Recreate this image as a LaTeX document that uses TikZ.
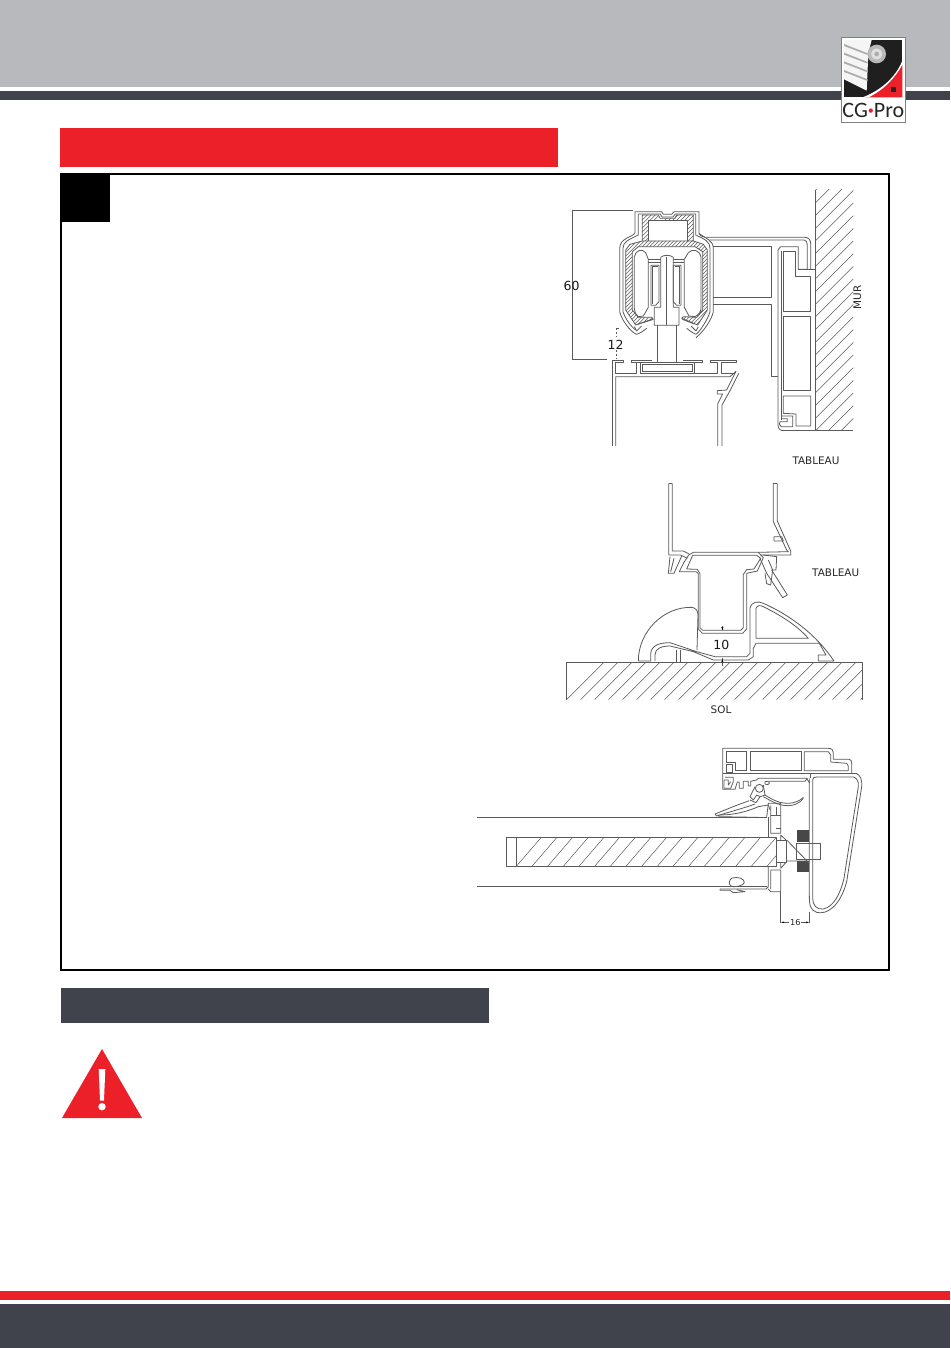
\documentclass[tikz,border=0pt]{standalone}
\usepackage{fontspec}
\setmainfont{DejaVu Sans}
\newfontfamily\logofont{Carlito}
\definecolor{band}{HTML}{B7B9BC}
\definecolor{darkb}{HTML}{40434B}
\definecolor{redb}{HTML}{EC2029}
\definecolor{ink}{HTML}{5A5A5A}
\tikzset{
 prof/.style={draw=ink,line width=0.8pt,line join=round},
 hatch/.style={draw=ink,line width=0.5pt},
 lab/.style={font=\fontsize{10.4}{11}\selectfont,text=black!85,inner sep=0pt},
 dimlab/.style={font=\fontsize{12.5}{13}\selectfont,text=black!90,inner sep=0pt},
 dim/.style={draw=ink,line width=0.6pt}
}
\begin{document}
\begin{tikzpicture}[x=1pt,y=-1pt]
\useasboundingbox (0,0) rectangle (950,1348);
\fill[white] (0,0) rectangle (950,1348);
% header
\fill[band] (0,0) rectangle (950,87);
\fill[darkb] (0,91) rectangle (950,100);
% footer
\fill[redb] (0,1291) rectangle (950,1300);
\fill[darkb] (0,1304) rectangle (950,1348);
% title bars
\fill[redb] (60,128) rectangle (558,167);
\fill[darkb] (61,988) rectangle (489,1023);
% frame
\draw[black,line width=1.5pt] (61,174) rectangle (889,970);
\fill[black] (61,174) rectangle (110,222);
% warning
\fill[redb] (102,1049) -- (142,1118) -- (62,1118) -- cycle;
\fill[white] (98.7,1069) -- (105.3,1069) -- (104,1100.5) -- (100,1100.5) -- cycle;
\fill[white] (102,1106.7) circle (3.7);
% logo
\begin{scope}[shift={(820,20)},scale=1/3]
 \fill[white] (64,52) rectangle (256,306);
 \draw[gray,line width=0.4pt] (64,52) rectangle (256,306);
 \fill[black!88] (72,60) rectangle (247,232);
 \fill[white!92!gray] (72,60) -- (155,60) -- (145,100) -- (140,212) -- (72,178) -- cycle;
 \foreach \yy in {72,98,124,150}
   \fill[gray!65] (72,\yy) -- (143,\yy+28) -- (143,\yy+33) -- (72,\yy+6) -- cycle;
 \fill[redb] (247,134) -- (247,232) -- (136,232) .. controls (190,210) and (225,175) .. (247,134) -- cycle;
 \fill[white] (128,232) .. controls (185,210) and (228,170) .. (247,122) -- (247,134) .. controls (225,175) and (190,210) .. (146,232) -- cycle;
 \fill[black!85] (213,201) rectangle (227,215);
 \fill[gray!55] (170,102) circle (28);
 \fill[gray!25] (170,102) circle (17);
 \fill[gray!65] (170,102) circle (7);
 \node[inner sep=0pt,text=black!85,font=\logofont\fontsize{22}{22}\selectfont] (logotext) at (160,271) {CG\textcolor{redb}{\raisebox{2.5pt}{\scalebox{.55}{•}}}Pro};
\end{scope}
% ------- drawing 1
\begin{scope}[shift={(550,180)},scale=1/3]
 % wall
 \begin{scope}
  \clip (797,30) rectangle (910,752);
  \foreach \k in {0,...,27} \draw[hatch] (797,30+\k*38) -- ++(113,-113);
 \end{scope}
 \draw[prof] (797,30) -- (797,752);
 \draw[prof] (700,752) -- (910,752);
 % tableau profile
 \draw[prof] (490,198) -- (663,198) -- (663,353) -- (490,353);
 \draw[prof] (490,374) -- (663,374) -- (663,590) -- (684,590);
 \draw[prof] (470,172) -- (765,172) .. controls (775,172) and (782,180) .. (782,190) -- (782,268);
 \draw[prof] (478,180) -- (762,180) .. controls (768,180) and (772,186) .. (772,195) -- (772,268) -- (745,268) -- (745,200) -- (692,200) -- (684,210) -- (684,735) .. controls (684,745) and (690,752) .. (700,752);
 \draw[prof] (745,268) -- (795,268) -- (795,752);
 \draw[prof] (694,212) -- (694,720);
 \draw[prof] (700,215) -- (735,215) -- (735,290) -- (782,290) -- (782,395) -- (700,395) -- cycle;
 \draw[prof] (700,408) rectangle (782,632);
 \draw[prof] (700,648) -- (782,648) -- (782,738) -- (738,738) -- (738,702) -- (700,700) -- cycle;
 \draw[prof] (694,708) -- (728,708) -- (728,740) -- (694,740) -- (688,733) -- (690,725) -- (712,725) -- (712,716) -- (694,716);
 % carriage in finer coordinates
 \begin{scope}[shift={(165,60)}]
  % outer extrusion
  \draw[prof] (90,98) -- (90,35) -- (170,35) -- (175,43) -- (200,43) -- (207,35) -- (282,35) -- (282,100) .. controls (285,110) and (300,112) .. (305,112);
  \draw[prof] (90,98) .. controls (85,112) and (45,112) .. (44,145) -- (44,335) .. controls (50,360) and (75,395) .. (95,403) .. controls (105,400) and (115,393) .. (125,385);
  \draw[prof] (100,42) -- (100,105) .. controls (70,120) and (54,125) .. (54,145) -- (54,335) .. controls (60,355) and (78,380) .. (92,390);
  \draw[prof] (100,42) -- (166,42) -- (171,51) -- (204,51) -- (211,42) -- (272,42) -- (272,105) .. controls (300,118) and (315,125) .. (315,145) -- (315,335) .. controls (310,355) and (285,395) .. (273,403) .. controls (265,400) and (255,393) .. (245,385);
  \draw[prof] (282,100) .. controls (300,115) and (325,120) .. (325,145) -- (325,335) .. controls (320,360) and (295,395) .. (273,413);
  % hatched rails
  \begin{scope}
   \clip (112,45) -- (160,45) -- (165,55) -- (210,55) -- (215,45) -- (265,45) -- (265,123) -- (248,123) -- (248,62) -- (130,62) -- (130,123) -- (112,123) -- cycle;
   \foreach \k in {0,...,24} \draw[hatch] (100,60+\k*12) -- ++(60,-60) (180,60+\k*12) -- ++(100,-100);
  \end{scope}
  \begin{scope}
   \clip (62,150) -- (75,133) -- (112,123) -- (265,123) -- (295,133) -- (307,150) -- (307,330) -- (278,375) -- (230,355) -- (235,350) -- (275,352) -- (293,330) -- (293,155) -- (270,140) -- (100,140) -- (82,155) -- (82,330) -- (100,352) -- (140,352) -- (145,358) -- (92,375) -- (62,330) -- cycle;
   \foreach \k in {0,...,50} \draw[hatch] (55,120+\k*11) -- ++(260,-260);
  \end{scope}
  \draw[prof] (112,123) -- (112,45) -- (160,45) -- (165,55) -- (210,55) -- (215,45) -- (265,45) -- (265,123);
  \draw[prof] (130,123) -- (130,62) -- (248,62) -- (248,123);
  \draw[prof] (62,150) -- (75,133) -- (112,123) -- (265,123) -- (295,133) -- (307,150) -- (307,330) -- (278,375) -- (230,355) -- (235,350) -- (275,352) -- (293,330) -- (293,155) -- (270,140) -- (100,140) -- (82,155) -- (82,330) -- (100,352) -- (140,352) -- (145,358) -- (92,375) -- (62,330) -- cycle;
  % wheels
  \draw[prof] (88,170) .. controls (92,150) and (112,145) .. (122,158) -- (130,178) -- (130,322) -- (115,348) -- (100,350) .. controls (92,345) and (88,335) .. (88,325) -- cycle;
  \draw[prof] (288,170) .. controls (284,150) and (262,145) .. (250,158) -- (238,178) -- (238,322) -- (252,348) -- (270,350) .. controls (280,345) and (288,335) .. (288,325) -- cycle;
  \draw[prof] (130,178) -- (167,178) (130,186) -- (167,186) (205,178) -- (238,178) (205,186) -- (238,186);
  \draw[prof] (138,196) -- (162,196) -- (162,305) -- (152,316) -- (138,316) -- cycle;
  \draw[prof] (142,200) -- (158,200) (142,200) -- (142,312);
  \draw[prof] (205,196) -- (228,196) -- (228,316) -- (215,316) -- (205,305) -- cycle;
  \draw[prof] (209,200) -- (224,200) (224,200) -- (224,312);
  % axle
  \draw[prof] (167,322) -- (167,172) .. controls (175,164) and (197,164) .. (205,172) -- (205,322) -- (222,322) -- (222,376) -- (148,376) -- (148,322) -- cycle;
  \draw[prof] (185,170) -- (185,376);
  \draw[prof] (158,376) -- (158,485) (215,376) -- (215,485);
  % lip ends
  \draw[prof] (88,380) -- (95,393) -- (110,378) (100,372) -- (140,358);
  \draw[prof] (280,380) -- (273,393) -- (258,378) (268,372) -- (232,358);
  % dimension extension
  \draw[dim] (85,31) -- (-99,31) -- (-99,477) -- (5,477);
  \draw[dim] (32,385) -- (42,385);
  \draw[dim,dash pattern=on 2pt off 2pt] (34,385) -- (34,412);
  \draw[dim,dash pattern=on 2pt off 2pt] (34,450) -- (34,476);
 \end{scope}
 \node[dimlab] (dsixty) at (65,318) {60};
 \node[dimlab] (dtwelve) at (197,494) {12};
 \node[lab,rotate=90] (mur) at (922,352) {MUR};
 \node[lab] (tab1) at (798,842) {TABLEAU};
 % leaf head
 \draw[prof] (187,798) -- (187,540) -- (220,540) -- (220,548) -- (197,548) -- (197,580) -- (258,580) -- (258,548) -- (245,548) -- (245,540) -- (305,540);
 \draw[prof] (197,798) -- (197,590) -- (540,590) -- (558,574);
 \draw[prof] (258,548) -- (270,548) -- (270,580) -- (432,580) -- (432,548) -- (458,548) -- (458,540) -- (398,540);
 \draw[prof] (270,548) -- (432,548);
 \draw[prof] (276,553) rectangle (426,575);
 \draw[prof] (432,580) -- (503,580) -- (503,548) -- (482,548) -- (482,540) -- (558,540) -- (558,548) -- (515,548) -- (515,580) -- (556,580);
 \draw[prof] (558,574) -- (530,630) -- (502,632) -- (502,642) -- (518,642) -- (503,672) -- (503,798);
 \draw[prof] (566,580) -- (540,632) -- (516,675) -- (516,798);
\end{scope}
% ------- drawing 2
\begin{scope}[shift={(550,475)},scale=1/3]
 \begin{scope}
  \clip (50,562) rectangle (938,674);
  \foreach \k in {0,...,24} \draw[hatch] (50+\k*42,674) -- ++(112,-112);
 \end{scope}
 \draw[prof] (50,674) -- (50,562) -- (938,562) -- (938,674);
 % leaf
 \draw[prof] (356,25) -- (356,240) -- (392,240) -- (412,250);
 \draw[prof] (367,25) -- (367,228) -- (400,228) -- (416,236);
 \draw[prof] (356,25) -- (367,25) (670,25) -- (682,25);
 \draw[prof] (670,25) -- (670,140) -- (710,225) -- (715,230) -- (625,232);
 \draw[prof] (682,25) -- (682,138) -- (722,228) -- (722,240) -- (630,240);
 \draw[prof] (672,185) -- (695,185) -- (700,198) -- (672,198) -- cycle;
 % t profile
 \draw[prof] (416,240) -- (430,232) -- (625,232) -- (640,248) -- (622,288) -- (590,295) -- (590,462) -- (578,475) -- (457,475) -- (445,462) -- (445,296) -- (438,290) -- (388,290) -- (402,262) -- (416,240);
 \draw[prof] (428,241) -- (620,241) -- (632,250) -- (612,282) -- (590,284) -- (580,298) -- (580,458) -- (572,466) -- (458,466) -- (450,458) -- (450,296) -- (442,283) -- (410,282) -- cycle;
 % left seal
 \draw[prof] (360,245) -- (355,295) -- (372,295) -- (395,243);
 \draw[prof] (372,250) -- (362,290);
 % right seal
 \draw[prof] (640,240) -- (680,245) -- (678,285) -- (665,285) -- (712,360) -- (698,368) -- (650,295) -- (630,250);
 \draw[prof] (655,255) -- (668,285) -- (662,330) -- (650,326) -- (645,295);
 % seuil
 \draw[prof] (265,558) .. controls (265,470) and (340,395) .. (425,397) .. controls (435,398) and (444,405) .. (444,420) -- (441,525);
 \draw[prof] (265,558) -- (302,558) -- (302,535) .. controls (305,510) and (330,503) .. (360,503) -- (440,530) -- (495,545) -- (590,545) -- (600,535) -- (600,400) .. controls (605,378) and (625,378) .. (640,385) .. controls (720,420) and (800,480) .. (852,558) -- (805,558) -- (805,540) -- (828,540) -- (808,505) -- (618,505) -- (610,520) -- (610,545) -- (595,555) -- (490,555) -- (430,530) -- (360,513) .. controls (335,513) and (315,520) .. (315,540) -- (315,558);
 \draw[prof] (380,525) -- (380,560) (392,525) -- (392,560);
 \draw[prof] (618,400) .. controls (622,388) and (635,392) .. (640,395) .. controls (690,420) and (740,450) .. (775,490) -- (618,490) -- cycle;
 % dim
 \draw[dim] (517,452) -- (517,466) (517,550) -- (517,572);
 \fill[black] (517,466) -- (514,456) -- (520,456) -- cycle;
 \fill[black] (517,552) -- (514,562) -- (520,562) -- cycle;
 \node[dimlab] (dten) at (514,510) {10};
 \node[lab] (tab2) at (857,292) {TABLEAU};
 \node[lab] (sol) at (513,703) {SOL};
\end{scope}
% ------- drawing 3
\begin{scope}[shift={(470,735)},scale=1/3]
 % glass
 \begin{scope}
  \clip (138,308) rectangle (918,395);
  \foreach \k in {0,...,18} \draw[hatch] (138+\k*47,395) -- ++(75,-87);
 \end{scope}
 \draw[prof] (110,308) rectangle (918,395);
 \draw[prof] (138,308) -- (138,395);
 \draw[prof] (22,247) -- (890,247) (22,455) -- (890,455);
 % body of the big jamb
 \draw[prof] (1145,115) -- (1160,116) .. controls (1170,120) and (1178,135) .. (1175,155) -- (1130,440) .. controls (1110,515) and (1070,540) .. (1040,532) .. controls (1020,525) and (1018,510) .. (1018,480) -- (1018,130);
 \draw[prof] (1028,135) -- (1028,490) .. controls (1028,510) and (1040,525) .. (1060,522) .. controls (1090,515) and (1110,480) .. (1122,430) -- (1165,155) .. controls (1168,135) and (1155,126) .. (1150,126) -- (1040,126) .. controls (1032,126) and (1028,128) .. (1028,135);
 % leaf profile
 \draw[prof] (890,247) -- (895,205) -- (932,205) -- (932,295) (902,212) -- (902,295) -- (932,295);
 \draw[prof] (895,247) -- (895,308);
 \draw[prof] (902,240) -- (932,240) (918,280) -- (932,280) (918,240) -- (918,215);
 \draw[prof] (895,395) -- (895,455) -- (888,462) -- (750,462);
 \draw[prof] (902,405) -- (932,405) -- (932,470) -- (902,470) -- (895,462) (902,405) -- (902,462);
 \draw[prof] (918,315) rectangle (948,382);
 \draw[prof] (932,300) -- (948,315) (932,400) -- (948,382) (932,300) -- (932,315) (932,382) -- (932,400);
 % gasket
 \draw[prof] (780,435) .. controls (780,425) and (815,425) .. (820,435) .. controls (830,445) and (815,455) .. (790,455) .. controls (780,455) and (775,445) .. (780,435) -- cycle;
 \draw[prof] (750,462) -- (750,466) -- (780,466) -- (790,473) -- (825,470) -- (800,464);
 % bolt
 \fill[ink!80!black] (980,285) rectangle (1018,322);
 \fill[ink!80!black] (980,378) rectangle (1018,412);
 \draw[prof] (950,315) -- (1018,385) (950,378) -- (1018,378);
 \draw[prof] (980,325) -- (1052,325) -- (1052,372) -- (980,372) -- cycle;
 % dim
 \draw[dim] (932,470) -- (932,565) (1018,530) -- (1018,565);
 \draw[dim] (936,562) -- (958,562) (992,562) -- (1014,562);
 \fill[black] (933,562) -- (942,559.5) -- (942,564.5) -- cycle;
 \fill[black] (1017,562) -- (1008,559.5) -- (1008,564.5) -- cycle;
 \node[lab,font=\fontsize{8.2}{9}\selectfont] (dsixteen) at (976,564) {16};
 % top of frame, finer coordinates
 \begin{scope}[shift={(690,15)}]
  \draw[prof] (68,148) -- (68,25) -- (385,25) .. controls (395,25) and (400,30) .. (400,38) -- (400,58) -- (448,58) .. controls (453,60) and (455,62) .. (455,70) -- (455,100);
  \draw[prof] (78,35) -- (140,35) -- (140,92) -- (105,92) -- (105,68) -- (78,68) -- cycle;
  \draw[prof] (150,35) rectangle (305,92);
  \draw[prof] (313,35) -- (385,35) -- (392,45) -- (392,66) -- (440,70) -- (445,78) -- (445,92) -- (313,92) -- cycle;
  \draw[prof] (78,72) -- (97,72) -- (97,98) -- (78,98) -- cycle;
  \draw[prof] (68,100) -- (470,100);
  % track
  \draw[prof] (68,148) -- (105,148) -- (112,126) -- (118,126) -- (118,145) -- (130,145) -- (130,124) -- (145,124) -- (145,138) -- (152,138) -- (152,124) -- (170,120) -- (175,115) -- (320,115) -- (328,128) -- (330,125);
  \draw[prof] (75,112) -- (100,112) -- (100,125) -- (92,145) -- (72,145) -- (72,120) -- (85,120) -- (85,135) -- (92,125);
  \draw[prof] (205,124) -- (315,124) -- (322,115);
  \draw[prof] (330,102) -- (330,115);
  \draw[prof] (195,125) .. controls (205,120) and (212,130) .. (205,133) .. controls (195,135) and (192,130) .. (195,125);
  % catch
  \draw[prof] (178,145) circle (12);
  \draw[prof] (165,140) -- (150,170) -- (160,180) -- (170,165) -- (180,170) -- (168,188) -- (150,180);
  \draw[prof] (190,135) -- (195,165) -- (180,170);
  \draw[prof] (195,165) .. controls (225,185) and (245,190) .. (265,190) .. controls (280,190) and (300,183) .. (310,172);
  \draw[prof] (190,170) .. controls (225,190) and (240,197) .. (265,197) .. controls (280,197) and (300,190) .. (310,175);
  % wiper
  \draw[prof] (148,182) .. controls (110,195) and (70,212) .. (45,222) -- (50,228) .. controls (90,215) and (130,205) .. (165,192);
  \draw[prof] (55,225) .. controls (90,225) and (130,220) .. (175,200) -- (205,195) -- (210,210);
  \draw[prof] (55,230) -- (175,232);
 \end{scope}
\end{scope}
\end{tikzpicture}
\end{document}
